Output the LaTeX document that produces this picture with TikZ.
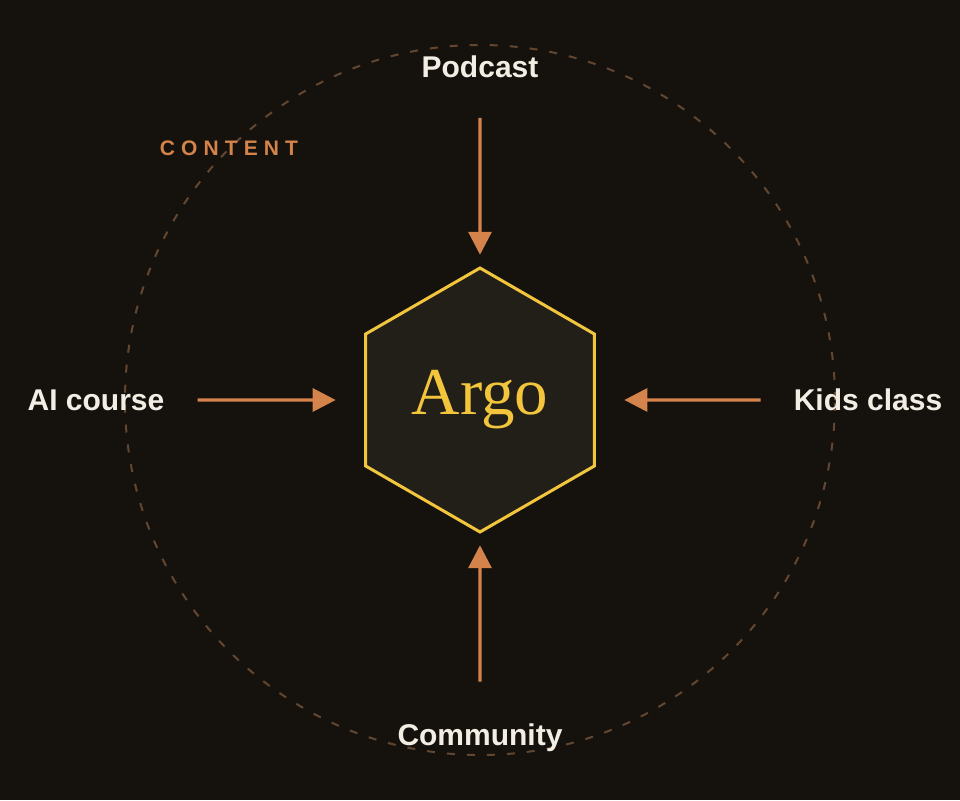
\documentclass[tikz,border=0pt]{standalone}
\usepackage{fontspec}
\setmainfont{Liberation Serif}
\setsansfont{Liberation Sans}
\newfontfamily\trackedsans[LetterSpace=29]{Liberation Sans}
\usepackage{xcolor}
\usetikzlibrary{arrows.meta,shapes.geometric}

\definecolor{bgdark}{HTML}{15120E}
\definecolor{hexfill}{HTML}{221F18}
\definecolor{argoyellow}{HTML}{F2C53D}
\definecolor{feedorange}{HTML}{D4834A}
\definecolor{ringbrown}{HTML}{634630}
\definecolor{labelwhite}{HTML}{F3EEE4}

\begin{document}
\begin{tikzpicture}[
    x=1pt, y=1pt,
    hub/.style={regular polygon, regular polygon sides=6, shape border rotate=30, minimum size=264pt, inner sep=0pt, draw=argoyellow, line width=3pt, fill=hexfill, text=argoyellow, font=\fontsize{67}{70}\selectfont},
    source/.style={inner sep=0pt, text height=21.5pt, text depth=0pt, text=labelwhite, font=\sffamily\bfseries\fontsize{30}{33}\selectfont},
    feed/.style={draw=feedorange, line width=3.2pt, -{Triangle[length=23pt, width=23pt]}}
]
\fill[bgdark] (0,0) rectangle (960,800);
\draw[ringbrown, line width=2pt, dash pattern=on 8pt off 12pt] (480,400) circle (355);
\node[text=feedorange, anchor=base, font=\trackedsans\bfseries\fontsize{21}{24}\selectfont] (ring) at (229,644) {CONTENT};
\node[hub] (argo) at (480,400) {Argo};
\node[source] (podcast) at (480,733) {Podcast};
\node[source] (ai) at (96,400) {AI course};
\node[source] (kids) at (868,400) {Kids class};
\node[source] (community) at (480,65) {Community};
% the four feeds into the hub
\draw[feed, shorten <=40pt, shorten >=11.5pt] (podcast) -- (argo);
\draw[feed, shorten <=33pt, shorten >=28.5pt] (ai) -- (argo);
\draw[feed, shorten <=33pt, shorten >=28.5pt] (kids) -- (argo);
\draw[feed, shorten <=42.5pt, shorten >=11.5pt] (community) -- (argo);
\end{tikzpicture}
\end{document}
